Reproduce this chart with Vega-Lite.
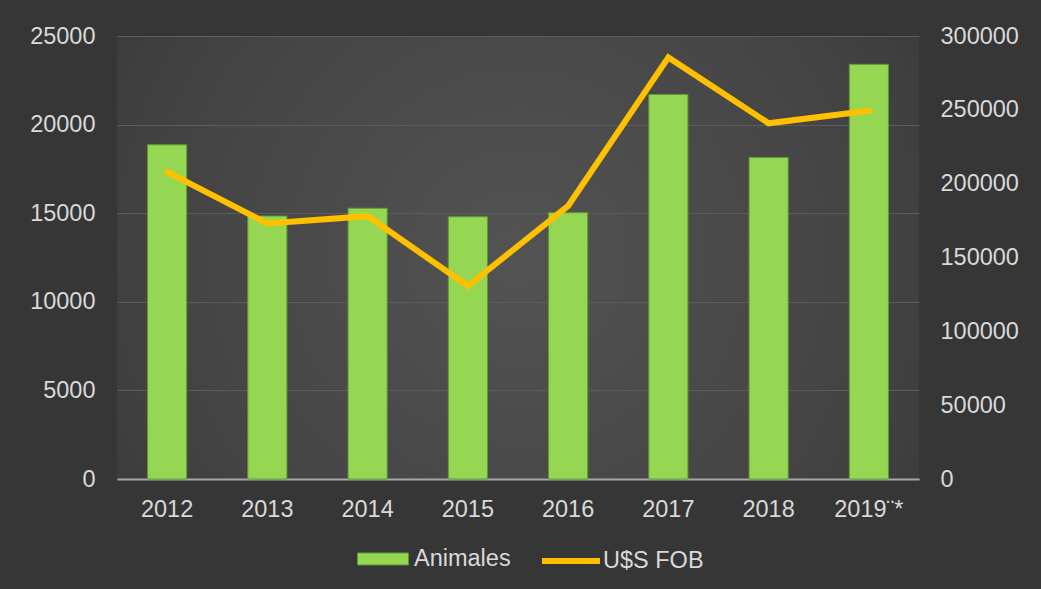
{
  "$schema": "https://vega.github.io/schema/vega-lite/v6.json",
  "width": 802,
  "height": 443,
  "autosize": {"type": "none"},
  "padding": {"left": 117, "top": 36, "right": 122, "bottom": 110},
  "background": "#363636",
  "config": {
    "view": {"stroke": null, "fill": {"gradient": "radial", "x1": 0.5, "y1": 0.5, "r1": 0, "x2": 0.5, "y2": 0.5, "r2": 0.71, "stops": [{"offset": 0, "color": "#535353"}, {"offset": 0.6, "color": "#444444"}, {"offset": 1, "color": "#363636"}]}},
    "font": "Liberation Sans",
    "axis": {"labelFont": "Liberation Sans", "labelFontSize": 23.5, "labelColor": "#d9d9d9", "ticks": false, "domain": false, "title": null, "grid": false},
    "legend": {"orient": "none", "labelFont": "Liberation Sans", "labelFontSize": 23.5, "labelColor": "#d9d9d9", "padding": 0, "labelOffset": 5, "title": null}
  },
  "data": {"values": [
    {"year": "2012", "animales": 18860, "fob": 208000},
    {"year": "2013", "animales": 14840, "fob": 173000},
    {"year": "2014", "animales": 15280, "fob": 178000},
    {"year": "2015", "animales": 14800, "fob": 130700},
    {"year": "2016", "animales": 15030, "fob": 184900},
    {"year": "2017", "animales": 21700, "fob": 285500},
    {"year": "2018", "animales": 18150, "fob": 240900},
    {"year": "2019¨*", "animales": 23400, "fob": 249400}
  ]},
  "encoding": {
    "x": {"field": "year", "type": "ordinal", "sort": null, "scale": {"paddingInner": 0.61, "paddingOuter": 0.305},
      "axis": {"labelAngle": 0, "labelPadding": 18, "domain": true, "domainColor": "#a6a6a6", "domainWidth": 2, "labelBaseline": "top"}}
  },
  "layer": [
    {
      "mark": {"type": "bar", "stroke": "#5f9a33", "strokeWidth": 1},
      "encoding": {
        "y": {"field": "animales", "type": "quantitative", "scale": {"domain": [0, 25000]},
          "axis": {"orient": "left", "values": [0, 5000, 10000, 15000, 20000, 25000], "format": "d", "labelPadding": 22, "grid": true, "gridColor": "#5c5c5c", "gridWidth": 1}},
        "fill": {"datum": "Animales", "type": "nominal", "scale": {"range": ["#95d752"]},
          "legend": {"symbolType": "M-1,-0.235H1V0.235H-1Z", "symbolSize": 2601, "symbolStrokeColor": "#5f9a33", "symbolStrokeWidth": 1, "legendX": 240, "legendY": 497}}
      }
    },
    {
      "mark": {"type": "line", "strokeWidth": 6, "strokeCap": "round", "strokeJoin": "miter"},
      "encoding": {
        "y": {"field": "fob", "type": "quantitative", "scale": {"domain": [0, 300000]},
          "axis": {"orient": "right", "values": [0, 50000, 100000, 150000, 200000, 250000, 300000], "format": "d", "labelPadding": 21}},
        "stroke": {"datum": "U$S FOB", "type": "nominal", "scale": {"range": ["#ffc000"]},
          "legend": {"symbolType": "stroke", "symbolSize": 3364, "symbolStrokeWidth": 6, "labelOffset": 0, "legendX": 422, "legendY": 493}}
      }
    }
  ],
  "resolve": {"scale": {"y": "independent"}}
}
